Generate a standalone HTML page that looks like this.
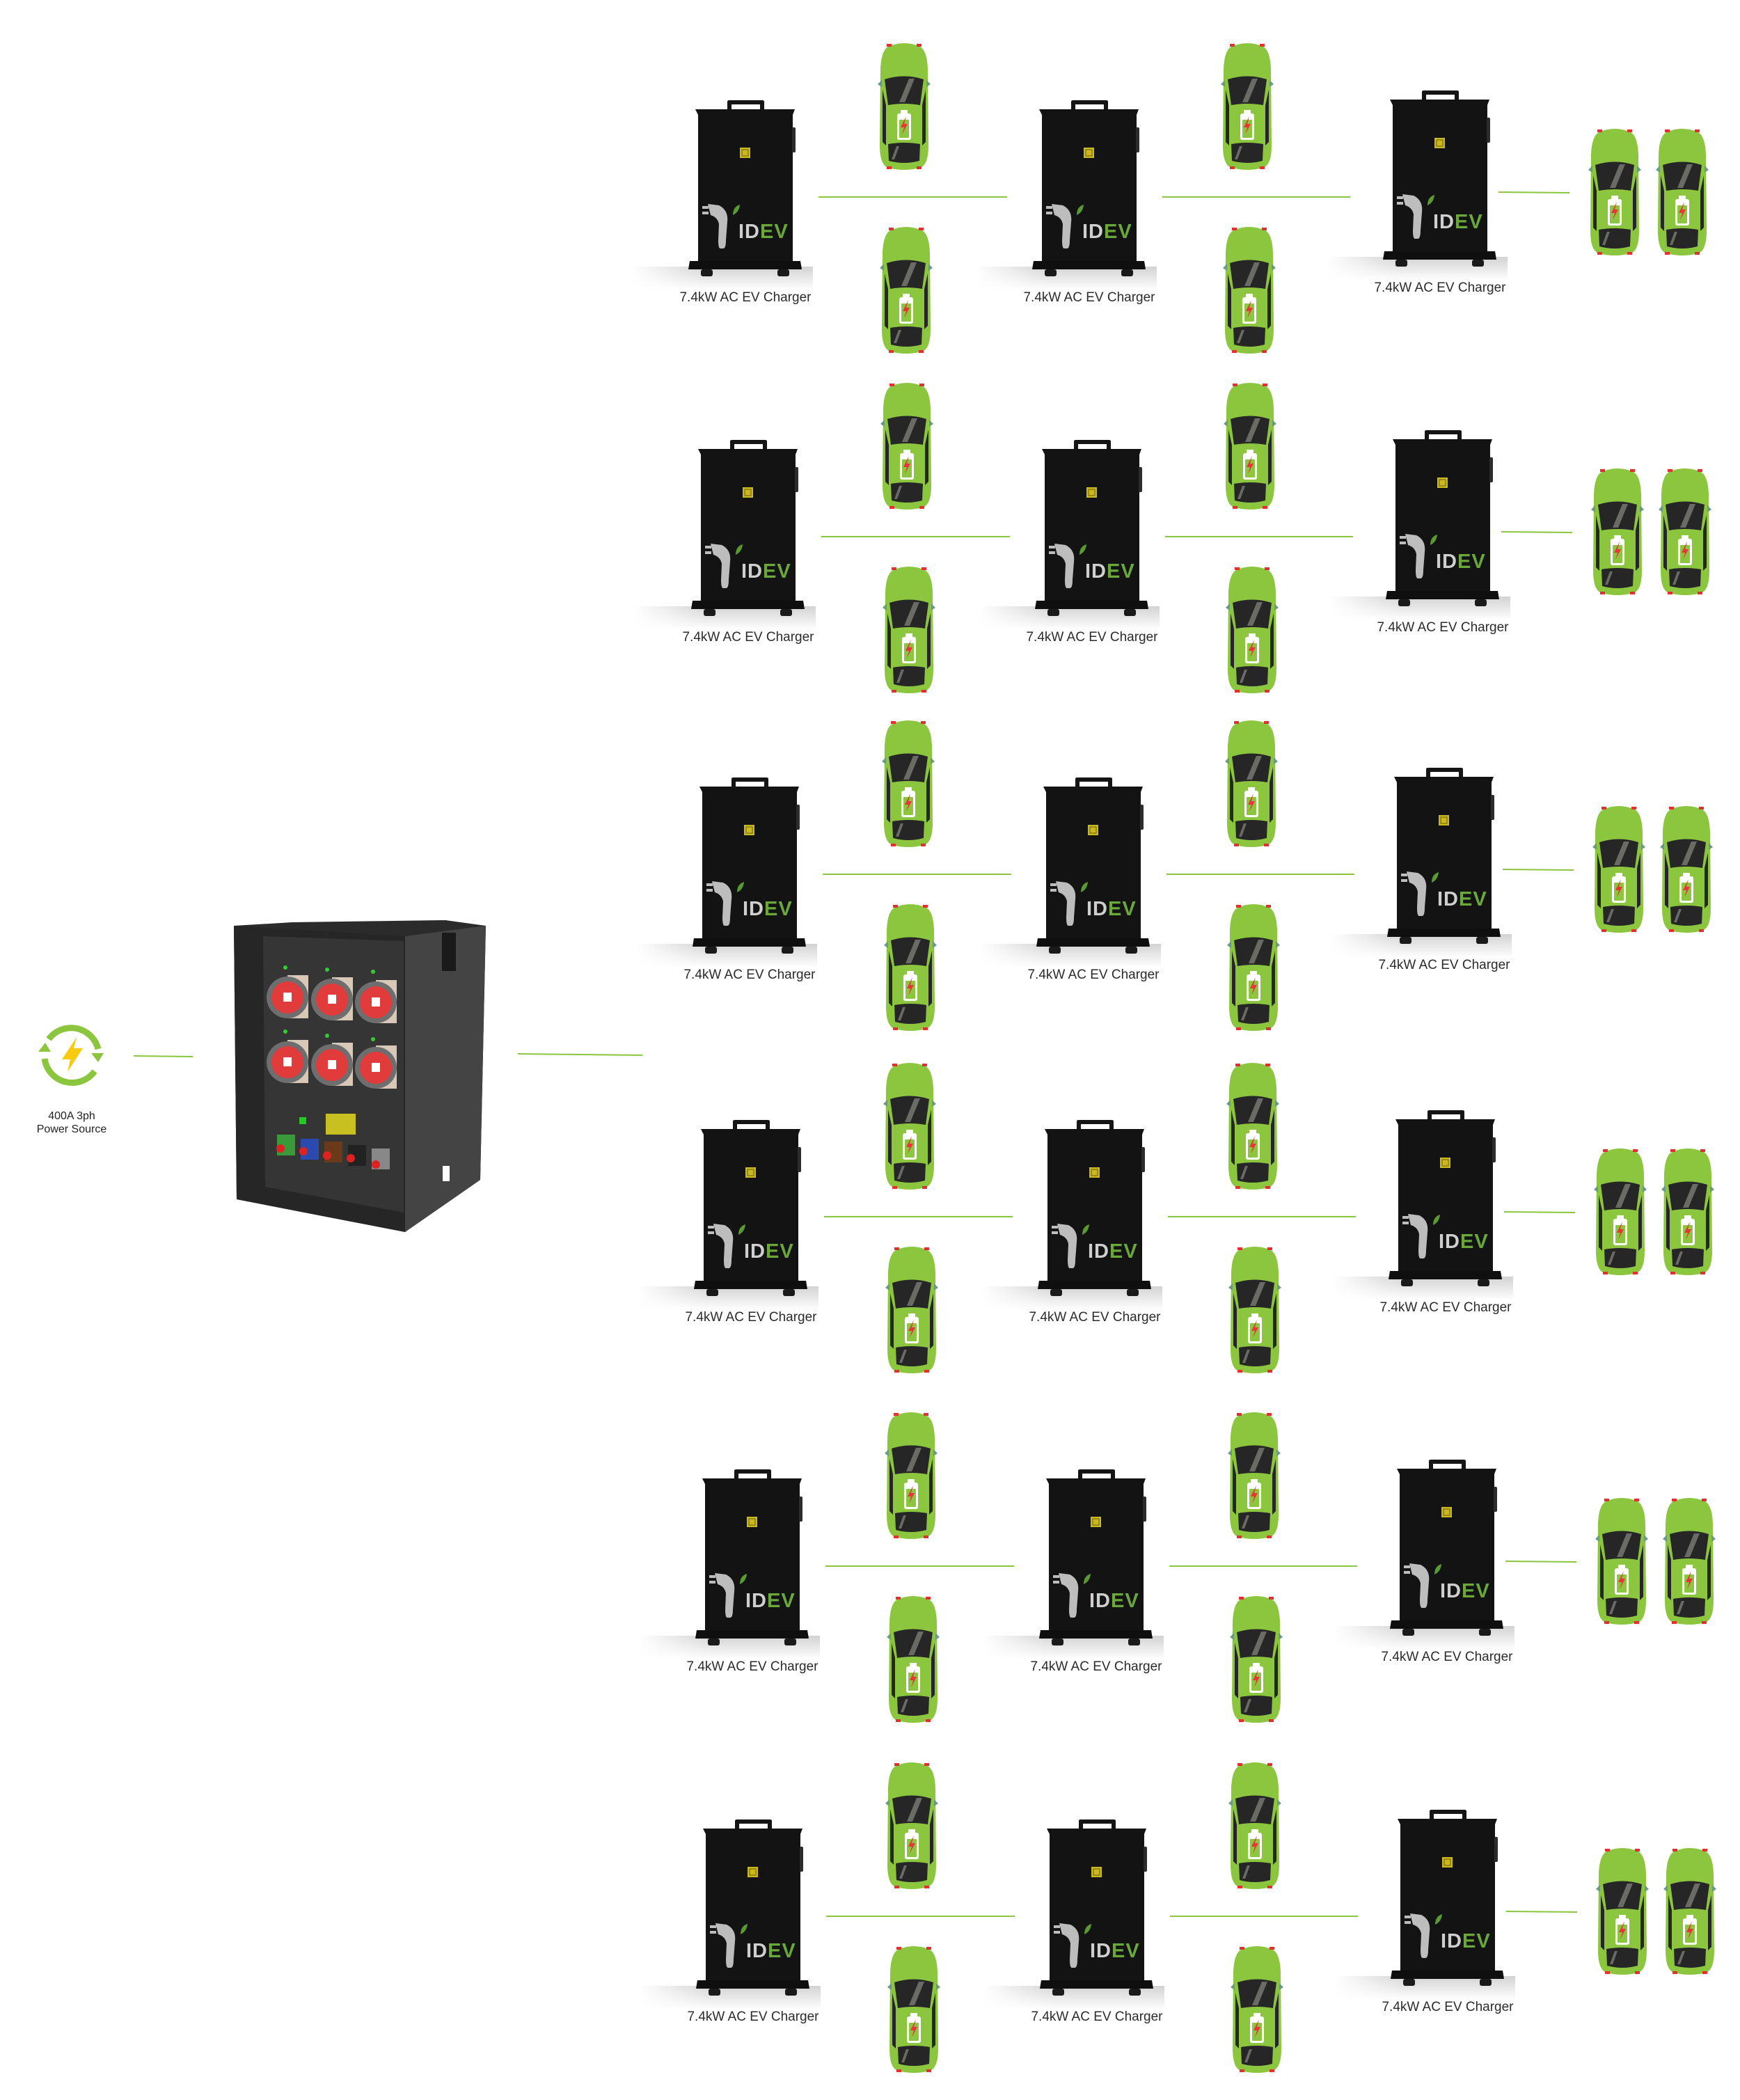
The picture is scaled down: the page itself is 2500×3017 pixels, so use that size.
<!DOCTYPE html>
<html><head><meta charset="utf-8"><style>
html,body{margin:0;padding:0;background:#fff;}
svg{display:block;}
text{font-family:"Liberation Sans",sans-serif;}
</style></head><body>
<svg width="2500" height="3017" viewBox="0 0 2500 3017" xmlns="http://www.w3.org/2000/svg">
<defs>
<linearGradient id="sh" x1="0" y1="0" x2="0" y2="1">
<stop offset="0" stop-color="#d2d2d2"/><stop offset="1" stop-color="#ffffff"/>
</linearGradient>
<linearGradient id="shx" x1="0" y1="0" x2="1" y2="0">
<stop offset="0" stop-color="#fff" stop-opacity="1"/><stop offset="0.4" stop-color="#fff" stop-opacity="0"/>
</linearGradient>
<g id="chg">
<rect x="-95" y="226" width="260" height="34" fill="url(#sh)"/>
<rect x="-95" y="226" width="260" height="34" fill="url(#shx)"/>
<path d="M42 0 L42 -11 Q42 -13 45 -13 L92 -13 Q95 -13 95 -11 L95 0 L89 0 L89 -7 L48 -7 L48 0 Z" fill="#151515"/>
<path d="M-4 0 L139 0 L136 8 L136 218 L0 218 L0 8 Z" fill="#121312"/>
<rect x="135" y="26" width="5" height="36" rx="2" fill="#2c2c2c"/>
<rect x="60" y="55" width="15" height="15" fill="#c9b81e"/>
<rect x="63" y="58" width="9" height="9" fill="none" stroke="#6b6010" stroke-width="1"/>
<path d="M-12 218 L147 218 L149 230 L-14 230 Z" fill="#0f0f0f"/>
<rect x="4" y="230" width="17" height="10" rx="3" fill="#1a1a1a"/>
<rect x="114" y="230" width="17" height="10" rx="3" fill="#1a1a1a"/>
<path d="M14 136 L30 138 Q44 145 42 162 L40 188 Q40 200 36 200 L32 200 Q29 200 29 188 L30 165 Q28 155 18 152 Z" fill="#bdbdbd"/>
<rect x="6" y="139" width="9" height="4" fill="#bdbdbd"/><rect x="6" y="147" width="9" height="4" fill="#bdbdbd"/>
<path d="M50 152 Q50 140 60 137 Q59 148 50 152 Z" fill="#5a9a32"/>
<text x="58" y="185" font-size="29" font-weight="bold" letter-spacing="1"><tspan fill="#cfcfcf">ID</tspan><tspan fill="#6aa83a">EV</tspan></text>
<text x="68" y="276" font-size="19" fill="#2b2b2b" text-anchor="middle">7.4kW AC EV Charger</text>
</g>
<g id="car">
<path d="M12 8 Q35 -2 58 8 Q68 14 69 40 L70 150 Q70 178 58 182 Q35 188 12 182 Q0 178 0 150 L1 40 Q2 14 12 8 Z" fill="#8cc63f"/>
<rect x="10" y="4" width="7" height="4" fill="#e03030"/><rect x="53" y="4" width="7" height="4" fill="#e03030"/>
<rect x="10" y="180" width="7" height="4" fill="#e03030"/><rect x="53" y="180" width="7" height="4" fill="#e03030"/>
<path d="M-3 62 L3 56 L3 66 Z" fill="#6a9a80"/><path d="M73 62 L67 56 L67 66 Z" fill="#6a9a80"/>
<path d="M7 55 Q35 46 63 55 L58 92 Q35 88 12 92 Z" fill="#262626"/>
<path d="M28 88 L42 54 L50 54 L36 88 Z" fill="#6b6b66"/>
<path d="M4 70 L9 92 L9 150 L4 145 Z" fill="#262626"/><path d="M66 70 L61 92 L61 150 L66 145 Z" fill="#262626"/>
<path d="M12 148 Q35 144 58 148 L57 172 Q35 178 13 172 Z" fill="#262626"/>
<path d="M17 170 L24 151 L28 151 L21 170 Z" fill="#6b6b66"/>
<rect x="30" y="99" width="10" height="5" fill="#fff"/>
<rect x="25" y="104" width="20" height="38" rx="3" fill="#fff"/>
<rect x="28" y="113" width="14" height="26" rx="1" fill="#8cc63f"/>
<path d="M38 108 L30 124 L35 124 L32 134 L40 119 L35 119 Z" fill="#e8343a"/>
</g>
</defs>

<!-- power source -->
<g transform="translate(103,1515)" fill="none" stroke="#8cc63f" stroke-width="9">
<path d="M-33 -22 A40 40 0 0 1 38 -8"/>
<path d="M33 24 A40 40 0 0 1 -39 6"/>
</g>
<path d="M131 1513 L149 1513 L141 1526 Z" fill="#8cc63f"/>
<path d="M55 1511 L73 1511 L65 1498 Z" fill="#8cc63f"/>
<path d="M110 1490 L89 1522 L101 1522 L97 1540 L119 1506 L106 1506 Z" fill="#f7cc10"/>
<text x="103" y="1608" font-size="16" fill="#222" text-anchor="middle">400A 3ph</text>
<text x="103" y="1627" font-size="16" fill="#222" text-anchor="middle">Power Source</text>
<line x1="192" y1="1517" x2="277" y2="1518" stroke="#8cc63f" stroke-width="2"/>
<line x1="744" y1="1514" x2="923" y2="1516" stroke="#8cc63f" stroke-width="2"/>

<!-- distribution box -->
<polygon points="336,1330 420,1325 640,1322 698,1330 690,1695 582,1770 340,1723" fill="#2b2b2b"/>
<polygon points="582,1345 698,1330 690,1695 582,1770" fill="#444"/>
<polygon points="336,1330 582,1345 582,1770 340,1723" fill="#262626"/>
<polygon points="378,1345 580,1352 580,1742 381,1705" fill="#353535"/>
<rect x="635" y="1340" width="20" height="55" fill="#1a1a1a"/>
<g>
<g transform="translate(413,1433)"><rect x="0" y="-32" width="30" height="62" fill="#d8c8b8"/><circle r="30" fill="#6e6e6e"/><circle r="23" fill="#e23b3b"/><rect x="-6" y="-7" width="12" height="13" fill="#fff"/></g>
<g transform="translate(477,1436)"><rect x="0" y="-32" width="30" height="62" fill="#d8c8b8"/><circle r="30" fill="#6e6e6e"/><circle r="23" fill="#e23b3b"/><rect x="-6" y="-7" width="12" height="13" fill="#fff"/></g>
<g transform="translate(540,1440)"><rect x="0" y="-32" width="30" height="62" fill="#d8c8b8"/><circle r="30" fill="#6e6e6e"/><circle r="23" fill="#e23b3b"/><rect x="-6" y="-7" width="12" height="13" fill="#fff"/></g>
<g transform="translate(413,1526)"><rect x="0" y="-32" width="30" height="62" fill="#d8c8b8"/><circle r="30" fill="#6e6e6e"/><circle r="23" fill="#e23b3b"/><rect x="-6" y="-7" width="12" height="13" fill="#fff"/></g>
<g transform="translate(477,1530)"><rect x="0" y="-32" width="30" height="62" fill="#d8c8b8"/><circle r="30" fill="#6e6e6e"/><circle r="23" fill="#e23b3b"/><rect x="-6" y="-7" width="12" height="13" fill="#fff"/></g>
<g transform="translate(540,1534)"><rect x="0" y="-32" width="30" height="62" fill="#d8c8b8"/><circle r="30" fill="#6e6e6e"/><circle r="23" fill="#e23b3b"/><rect x="-6" y="-7" width="12" height="13" fill="#fff"/></g>
</g>
<circle cx="410" cy="1390" r="3" fill="#3c3"/><circle cx="470" cy="1393" r="3" fill="#3c3"/><circle cx="536" cy="1396" r="3" fill="#3c3"/>
<circle cx="410" cy="1482" r="3" fill="#3c3"/><circle cx="470" cy="1488" r="3" fill="#3c3"/><circle cx="536" cy="1493" r="3" fill="#3c3"/>
<rect x="468" y="1600" width="43" height="30" fill="#c8c020"/>
<rect x="430" y="1605" width="10" height="10" fill="#2c2"/>
<rect x="398" y="1630" width="26" height="30" fill="#3a9a3a"/><circle cx="403" cy="1650" r="6" fill="#d22"/>
<rect x="432" y="1636" width="26" height="30" fill="#2a4ab0"/><circle cx="436" cy="1654" r="6" fill="#d22"/>
<rect x="466" y="1640" width="26" height="30" fill="#6a3a1a"/><circle cx="470" cy="1660" r="6" fill="#d22"/>
<rect x="500" y="1645" width="26" height="30" fill="#222"/><circle cx="504" cy="1664" r="6" fill="#d22"/>
<rect x="534" y="1650" width="26" height="30" fill="#888"/><circle cx="540" cy="1673" r="6" fill="#d22"/>
<rect x="636" y="1675" width="10" height="22" fill="#fff"/>

<!-- rows -->
<g id="row">
<use href="#chg" x="1003" y="157"/>
<use href="#chg" x="1497" y="157"/>
<use href="#chg" x="2001" y="143"/>
<use href="#car" x="1264" y="59"/>
<use href="#car" x="1267" y="323"/>
<use href="#car" x="1757" y="59"/>
<use href="#car" x="1760" y="323"/>
<use href="#car" x="2285" y="182"/>
<use href="#car" x="2382" y="182"/>
<line x1="1176" y1="283" x2="1447" y2="283" stroke="#8cc63f" stroke-width="2"/>
<line x1="1670" y1="283" x2="1940" y2="283" stroke="#8cc63f" stroke-width="2"/>
<line x1="2153" y1="276" x2="2255" y2="277" stroke="#8cc63f" stroke-width="2"/>
</g>
<use href="#row" x="4" y="488"/>
<use href="#row" x="6" y="973"/>
<use href="#row" x="8" y="1465"/>
<use href="#row" x="10" y="1967"/>
<use href="#row" x="11" y="2470"/>
</svg>
</body></html>
